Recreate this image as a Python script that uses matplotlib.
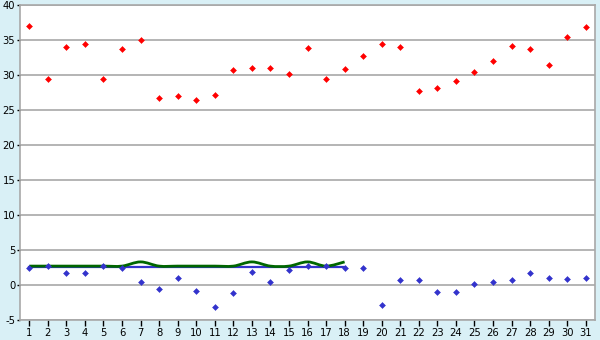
import matplotlib
matplotlib.use("Agg")
import matplotlib.pyplot as plt
from matplotlib.path import Path
from matplotlib.patches import PathPatch
import numpy as np

days = list(range(1, 32))
max_temp = [37.0, 29.5, 34.0, 34.4, 29.4, 33.7, 35.0, 26.7, 27.0, 26.4,
            27.2, 30.7, 31.0, 31.0, 30.2, 33.8, 29.4, 30.8, 32.7, 34.4,
            34.0, 27.7, 28.1, 29.2, 30.5, 32.0, 34.1, 33.7, 31.4, 35.5, 36.8]
min_temp = [2.4, 2.7, 1.7, 1.7, 2.7, 2.4, 0.5, -0.6, 1.0, -0.9,
            -3.2, -1.2, 1.8, 0.4, 2.1, 2.7, 2.7, 2.5, 2.4, -2.8,
            0.7, 0.7, -1.0, -1.0, 0.1, 0.4, 0.7, 1.7, 1.0, 0.8, 1.0]
line_days = list(range(1, 19))
blue_line = [2.6] * 18
green_line = [2.7, 2.7, 2.7, 2.7, 2.7, 2.7, 3.3, 2.7, 2.7, 2.7,
              2.7, 2.7, 3.3, 2.7, 2.7, 3.3, 2.7, 3.3]
y_ticks = [-5, 0, 5, 10, 15, 20, 25, 30, 35, 40]

plt.rcParams["axes.unicode_minus"] = False

bg = "#d9f0f6"
fig = plt.figure(figsize=(6, 3.4), dpi=100, facecolor=bg)
ax = fig.add_axes([20/600, 20/340, 575/600, 315/340])
ax.set_facecolor("white")

ax.set_xlim(0.5, 31.5)
ax.set_ylim(-5, 40)
ax.set_yticks(y_ticks)
ax.set_xticks(days)
ax.set_xticklabels([str(d) for d in days])
ax.yaxis.grid(True, color="#a8a8a8", linewidth=1.2)
ax.set_axisbelow(True)
for s in ax.spines.values():
    s.set_color("#a8a8a8")
    s.set_linewidth(1.2)
ax.tick_params(axis="both", colors="#000000", labelsize=7.2, width=1,
               direction="out")
ax.tick_params(axis="y", pad=1, length=2.5)
ax.tick_params(axis="x", pad=1.5, length=4)


def smooth_path(xs, ys):
    pts = np.column_stack([xs, ys]).astype(float)
    n = len(pts)
    verts = [pts[0]]
    codes = [Path.MOVETO]
    for i in range(n - 1):
        p0 = pts[i - 1] if i > 0 else pts[i]
        p1 = pts[i]
        p2 = pts[i + 1]
        p3 = pts[i + 2] if i + 2 < n else pts[i + 1]
        c1 = p1 + (p2 - p0) / 6.0
        c2 = p2 - (p3 - p1) / 6.0
        verts += [c1, c2, p2]
        codes += [Path.CURVE4] * 3
    return Path(verts, codes)


ax.plot(line_days, blue_line, color="#3333cc", linewidth=1.6, zorder=3)
ax.add_patch(PathPatch(smooth_path(line_days, green_line), facecolor="none",
                       edgecolor="#006600", linewidth=2.0, zorder=4))

ax.plot(days, max_temp, linestyle="none", marker="D", markersize=3.0,
        color="#ff0000", markeredgewidth=0.4, markeredgecolor="#ff0000", zorder=5)
ax.plot(days, min_temp, linestyle="none", marker="D", markersize=3.0,
        color="#3333cc", markeredgewidth=0.4, markeredgecolor="#3333cc", zorder=5)

fig.savefig("out.png", dpi=100, facecolor=bg)
